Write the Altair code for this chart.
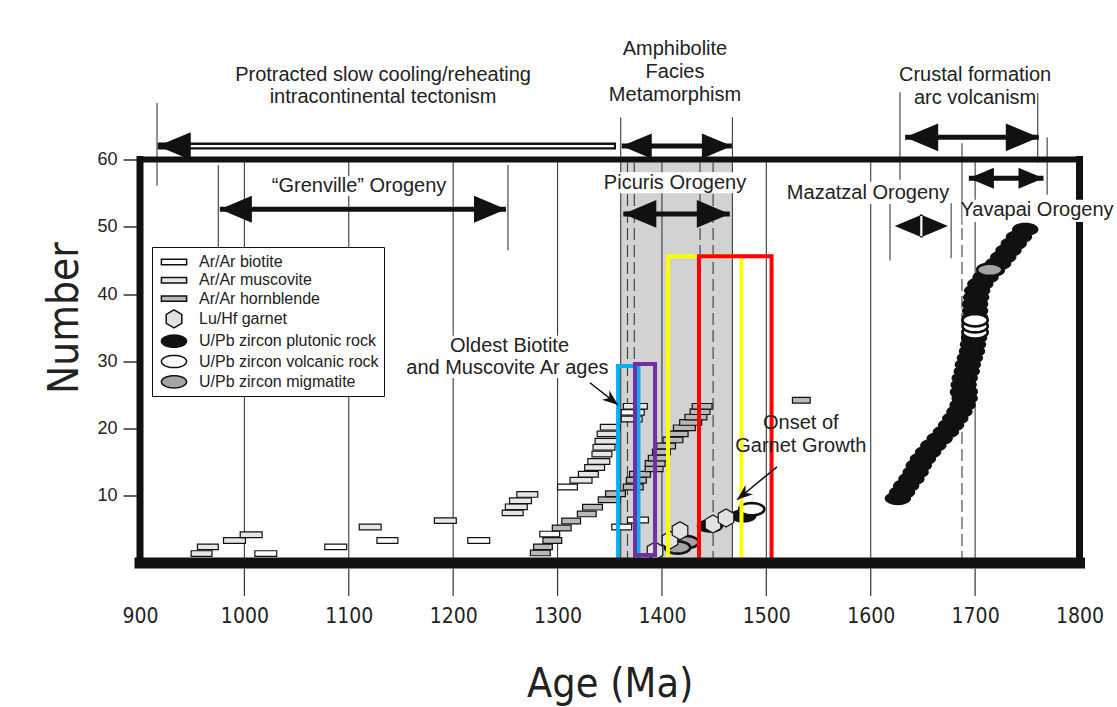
import math
import altair as alt
import pandas as pd

# ---------------------------------------------------------------- layout
X_DOMAIN = [900, 1800]
Y_DOMAIN = [0, 60]
PLOT_W, PLOT_H = 939.5, 403.5
FONT = "Liberation Sans, Arial, sans-serif"
NARROW = "Liberation Sans Narrow, DejaVu Sans Condensed, Arial Narrow, Liberation Sans, sans-serif"
INK = "#111111"

# ---------------------------------------------------------------- data
KIND = {
    "B": "Ar/Ar biotite",
    "M": "Ar/Ar muscovite",
    "H": "Ar/Ar hornblende",
}
kinds = ["Ar/Ar biotite", "Ar/Ar muscovite", "Ar/Ar hornblende", "Lu/Hf garnet",
         "U/Pb zircon plutonic rock", "U/Pb zircon volcanic rock", "U/Pb zircon migmatite"]

# Ar/Ar ages: mineral, age range (Ma) and sample number
ar_kind = ["M", "M", "M", "M", "B", "B", "M", "B", "M", "B",
           "M", "M", "M", "M",
           "B", "M", "M", "M", "M", "M", "M", "M", "M", "M", "M", "B", "M",
           "H", "H", "H", "B", "H", "H", "H", "H", "H", "H", "H", "H", "H",
           "H", "H", "H", "H", "H", "H", "H", "H", "H", "H", "H", "H",
           "B", "B", "H"]
ar_lo = [949, 955, 980, 996, 1010, 1077, 1110, 1127, 1182, 1214,
         1247, 1250, 1254, 1261,
         1300, 1312, 1320, 1326, 1329, 1333, 1334, 1336, 1338, 1341, 1361, 1361, 1363,
         1274, 1277, 1286, 1283, 1295, 1304, 1319, 1324, 1339, 1346, 1363, 1366, 1369,
         1384, 1384, 1387, 1391, 1395, 1401, 1405, 1411, 1417, 1422, 1427, 1429,
         1352, 1367, 1525]
ar_hi = [969, 975, 1001, 1017, 1031, 1098, 1131, 1147, 1203, 1235,
         1267, 1271, 1275, 1281,
         1319, 1333, 1339, 1345, 1350, 1352, 1355, 1357, 1357, 1360, 1381, 1383, 1386,
         1293, 1295, 1304, 1302, 1313, 1322, 1337, 1343, 1360, 1365, 1382, 1385, 1389,
         1401, 1403, 1405, 1408, 1413, 1420, 1425, 1432, 1438, 1443, 1446, 1448,
         1371, 1387, 1542]
ar_num = [1.4, 2.4, 3.35, 4.2, 1.4, 2.4, 5.35, 3.35, 6.3, 3.35,
          7.45, 8.35, 9.25, 10.2,
          11.3, 12.3, 13.2, 14.2, 15.1, 16.2, 17.2, 18.1, 19.2, 20.2, 21.4, 22.4, 23.3,
          1.5, 2.4, 3.35, 4.3, 5.2, 6.25, 7.3, 8.3, 9.4, 10.3, 11.3, 12.3, 13.2,
          14.0, 14.8, 15.6, 16.5, 17.4, 18.3, 19.2, 20.1, 20.9, 21.7, 22.5, 23.3,
          5.35, 6.4, 24.2]

# U/Pb plutonic zircon ages, sample number vs age (Ma)
plut_num = [9.6, 10.5, 11.5, 12.5, 13.5, 14.5, 15.5, 16.5, 17.5, 18.5, 19.5, 20.5, 21.5,
            22.5, 23.5, 24.5, 25.5, 26.5, 27.5, 28.5, 29.5, 30.5, 31.5, 32.5, 33.5, 34.5,
            35.5, 36.5, 37.5, 38.5, 39.5, 40.5, 41.5, 42.5, 43.5, 44.5, 45.5, 46.5, 47.5,
            48.5, 49.6]
plut_age = [1626, 1630, 1634, 1639, 1643, 1646, 1650, 1655, 1660, 1666, 1672, 1677, 1681,
            1685, 1688, 1690, 1690, 1689, 1690, 1692, 1693, 1695, 1697, 1698, 1699, 1700,
            1700, 1700, 1700, 1700, 1701, 1702, 1705, 1710, 1716, 1722, 1727, 1732, 1737,
            1742, 1748]

# zircon hidden beneath the plutonic trend (drawn first)
under_kind = ["U/Pb zircon volcanic rock"]
under_age = [1689]
under_num = [25.4]

# remaining zircon and garnet ages
other_kind = ["U/Pb zircon plutonic rock", "U/Pb zircon plutonic rock",
              "U/Pb zircon migmatite", "U/Pb zircon migmatite",
              "Lu/Hf garnet", "Lu/Hf garnet", "Lu/Hf garnet", "Lu/Hf garnet", "Lu/Hf garnet",
              "U/Pb zircon volcanic rock",
              "U/Pb zircon volcanic rock", "U/Pb zircon volcanic rock",
              "U/Pb zircon volcanic rock", "U/Pb zircon migmatite"]
other_age = [1446, 1478, 1423, 1415, 1393.4, 1407.7, 1417.3, 1448.9, 1461.4,
             1486, 1700, 1700, 1700, 1714]
other_num = [5.5, 7.0, 3.1, 2.3, 1.8, 3.4, 4.8, 5.8, 6.7,
             8.0, 34.3, 35.2, 36.1, 43.6]

# amphibolite-facies window
band_lo, band_hi = 1360.5, 1467.5

# age windows outlined in colour: range, bottom, top
win_lo = [1358, 1374.2, 1405.8, 1435.5]
win_hi = [1377.5, 1393.4, 1476.2, 1505]
win_bottom = [0.4, 1.2, 0.4, 0.4]
win_top = [29.3, 29.6, 45.6, 45.6]
win_color = ["#00b0f0", "#7030a0", "#ffff00", "#ff0000"]

# reference lines: solid and dashed
grid_ages = [1000, 1100, 1200, 1300, 1400, 1500, 1600, 1700]
mark_age = [916.3, 975, 1252.5, 1360.5, 1467.5, 1618.5, 1677, 1687.4, 1628, 1760, 1769]
mark_lo = [56.1, 47, 46.5, 0, 0, 45, 45.3, 50.3, 57, 59.5, 54.8]
mark_hi = [68.4, 59.2, 59.2, 66.3, 66.3, 53.5, 53.5, 62.4, 70, 69.9, 63.3]
dash_age = [1367, 1373.5, 1436.5, 1449, 1687.4]
dash_hi = [59.5, 59.5, 59.5, 59.5, 50.3]

# event arrows
arrow_name = ["Protracted", "Amphibolite", "Grenville", "Picuris", "Mazatzal", "Crustal", "Yavapai"]
arrow_num = [62.0, 62.0, 52.6, 51.9, 50.1, 63.3, 57.2]
arrow_left = [917, 1361.5, 976.5, 1363, 1623, 1633, 1694]
arrow_right = [1356, 1467, 1250.6, 1465, 1674, 1761, 1765.5]
HEAD_LEN = {"Protracted": 33, "Amphibolite": 30, "Grenville": 32, "Picuris": 33,
            "Mazatzal": 28, "Crustal": 33, "Yavapai": 25}

# annotation text
ann_text = ["Protracted slow cooling/reheating", "intracontinental tectonism",
            "Amphibolite", "Facies", "Metamorphism",
            "\u201cGrenville\u201d Orogeny", "Picuris Orogeny", "Mazatzal Orogeny",
            "Yavapai Orogeny", "Crustal formation", "arc volcanism",
            "Oldest Biotite", "and Muscovite Ar ages", "Onset of", "Garnet Growth"]
ann_age = [1132.8, 1132.8, 1412.5, 1412.5, 1412.5, 1109.8, 1412.5, 1597.4,
           1759.3, 1700, 1700, 1254, 1252, 1533, 1533]
ann_num = [72.6, 69.3, 76.4, 73.0, 69.6, 56.1, 56.5, 55.0,
           52.5, 72.6, 69.1, 32.3, 29.0, 20.8, 17.4]
# white boxes behind labels that sit on the lines
bg_lo = [1026.5, 1344, 1522.7, 1688, 1156]
bg_hi = [1193, 1481.5, 1672, 1847, 1348.4]
bg_bottom = [54.6, 55.0, 53.4, 50.7, 27.5]
bg_top = [57.5, 58.1, 56.7, 54.0, 33.8]

# pointer lines: start -> tip
call_x0 = [1331, 1510.2]
call_y0 = [26.8, 14.3]
call_x1 = [1358, 1471.9]
call_y1 = [23.5, 9.4]

# ---------------------------------------------------------------- symbols
def path(points):
    return "M" + "L".join(f"{x:.3f},{y:.3f}" for x, y in points) + "Z"


ELLIPSE = path([(1.4 * math.cos(2 * math.pi * k / 32), 0.68 * math.sin(2 * math.pi * k / 32))
                for k in range(32)])
HEXAGON = path([(math.cos(math.radians(90 + 60 * k)), math.sin(math.radians(90 + 60 * k)))
                for k in range(6)])
BAR_ICON = path([(-1.4, -0.3), (1.4, -0.3), (1.4, 0.3), (-1.4, 0.3)])
HEAD_LEFT = "M0,0L2,-0.84L2,0.84Z"
HEAD_RIGHT = "M0,0L-2,-0.84L-2,0.84Z"
CALLOUT_HEAD = "M0,0L-2,-0.75L-1.4,0L-2,0.75Z"
SYMBOL_SIZE = 324

XS = alt.Scale(domain=X_DOMAIN, nice=False, zero=False)
YS = alt.Scale(domain=Y_DOMAIN, nice=False, zero=False)
FILL_SCALE = alt.Scale(domain=kinds,
                       range=["#ffffff", "#e6e6e6", "#b8b8b8", "#e2e2e2", INK, "#ffffff", "#a4a4a4"])
SHAPE_SCALE = alt.Scale(domain=kinds,
                        range=[BAR_ICON, BAR_ICON, BAR_ICON, HEXAGON, ELLIPSE, ELLIPSE, ELLIPSE])

LEGEND = alt.Legend(title=None, orient="none", legendX=12, legendY=87.5,
                    fillColor="white", strokeColor=INK, padding=5, rowPadding=0.3,
                    symbolSize=SYMBOL_SIZE, symbolStrokeColor=INK, symbolStrokeWidth=1.5,
                    symbolOffset=7, labelOffset=15,
                    labelFont=FONT, labelFontSize=16, labelColor="#222222", labelLimit=400)

X_AXIS = alt.Axis(values=list(range(900, 1801, 100)), ticks=False, tickSize=0, domain=False,
                  grid=False, format="d", labelFont=NARROW, labelFontSize=21,
                  labelColor="#222222", labelPadding=42, labelFlush=False, labelOverlap=False,
                  title="Age (Ma)", titleFont=NARROW, titleFontSize=41,
                  titleFontWeight="normal", titleColor="#222222",
                  titleX=PLOT_W / 2, titleY=133, titleBaseline="alphabetic", titleAlign="center")
Y_AXIS = alt.Axis(values=[10, 20, 30, 40, 50, 60], tickSize=17, tickWidth=1.3, tickColor=INK,
                  domain=False, grid=False, labelFont=FONT, labelFontSize=18,
                  labelColor="#222222", labelPadding=6, labelFlush=False,
                  title="Number", titleFont=NARROW, titleFontSize=42,
                  titleFontWeight="normal", titleColor="#222222", titleAngle=270,
                  titleX=-63, titleY=158, titleBaseline="alphabetic", titleAlign="center")


def xq(field):
    return alt.X(f"{field}:Q", scale=XS, axis=X_AXIS)


def yq(field):
    return alt.Y(f"{field}:Q", scale=YS, axis=Y_AXIS)


# ---------------------------------------------------------------- layers
band = alt.Chart(pd.DataFrame({"lo": [band_lo], "hi": [band_hi],
                               "b": [Y_DOMAIN[0]], "t": [Y_DOMAIN[1]]})).mark_rect(
    fill="#d2d2d2").encode(x=xq("lo"), x2="hi", y=yq("b"), y2="t")

grid_df = pd.DataFrame({"age": grid_ages + mark_age,
                        "lo": [Y_DOMAIN[0]] * len(grid_ages) + mark_lo,
                        "hi": [Y_DOMAIN[1]] * len(grid_ages) + mark_hi})
solid_lines = alt.Chart(grid_df).mark_rule(color="#3a3a3a", strokeWidth=1.1).encode(
    x=xq("age"), y=yq("lo"), y2="hi")

dash_df = pd.DataFrame({"age": dash_age, "lo": [Y_DOMAIN[0]] * len(dash_age), "hi": dash_hi})
dashed_lines = alt.Chart(dash_df).mark_rule(color="#3a3a3a", strokeWidth=1.1,
                                            strokeDash=[12, 5]).encode(
    x=xq("age"), y=yq("lo"), y2="hi")

ar_df = pd.DataFrame({"kind": [KIND[k] for k in ar_kind], "lo": ar_lo, "hi": ar_hi, "num": ar_num})
bars = alt.Chart(ar_df).transform_calculate(
    b="datum.num - 0.42", t="datum.num + 0.42").mark_rect(
    stroke=INK, strokeWidth=1.2).encode(
    x=xq("lo"), x2="hi", y=yq("b"), y2="t",
    fill=alt.Fill("kind:N", scale=FILL_SCALE, legend=LEGEND))

pts_df = pd.DataFrame({
    "kind": under_kind + ["U/Pb zircon plutonic rock"] * len(plut_num) + other_kind,
    "age": under_age + plut_age + other_age,
    "num": under_num + plut_num + other_num,
})
points = alt.Chart(pts_df).transform_calculate(
    sw="(datum.kind == 'U/Pb zircon volcanic rock' || datum.kind == 'U/Pb zircon migmatite') ? 2.6 : 1.2"
).mark_point(filled=True, stroke=INK, size=SYMBOL_SIZE, opacity=1).encode(
    x=xq("age"), y=yq("num"),
    fill=alt.Fill("kind:N", scale=FILL_SCALE, legend=LEGEND),
    shape=alt.Shape("kind:N", scale=SHAPE_SCALE, legend=LEGEND),
    strokeWidth=alt.StrokeWidth("sw:Q", scale=None))

win_df = pd.DataFrame({"lo": win_lo, "hi": win_hi, "b": win_bottom, "t": win_top,
                       "color": win_color})
windows = alt.Chart(win_df).mark_rect(fillOpacity=0, strokeWidth=4).encode(
    x=xq("lo"), x2="hi", y=yq("b"), y2="t", stroke=alt.Stroke("color:N", scale=None))

arr_df = pd.DataFrame({"name": arrow_name, "num": arrow_num,
                       "left": arrow_left, "right": arrow_right})
shafts = alt.Chart(arr_df).transform_filter(
    "datum.name != 'Protracted' && datum.name != 'Mazatzal'").mark_rule(
    color=INK, strokeWidth=5).encode(x=xq("left"), x2="right", y=yq("num"))
hollow_outer = alt.Chart(arr_df).transform_filter("datum.name == 'Protracted'").mark_rule(
    color=INK, strokeWidth=7).encode(x=xq("left"), x2="right", y=yq("num"))
hollow_inner = alt.Chart(arr_df).transform_filter("datum.name == 'Protracted'").transform_calculate(
    a="datum.left + 30", z="datum.right - 2").mark_rule(
    color="white", strokeWidth=2.2).encode(x=xq("a"), x2="z", y=yq("num"))
divider = alt.Chart(arr_df).transform_filter("datum.name == 'Mazatzal'").transform_calculate(
    mid="(datum.left + datum.right) / 2", b="datum.num - 1.5", t="datum.num + 1.5").mark_rule(
    color="white", strokeWidth=2.2).encode(x=xq("mid"), y=yq("b"), y2="t")

left_heads = pd.DataFrame({"age": arrow_left, "num": arrow_num,
                           "size": [HEAD_LEN[n] ** 2 for n in arrow_name]})
right_names = [n for n in arrow_name if n != "Protracted"]
right_heads = pd.DataFrame({
    "age": [r for n, r in zip(arrow_name, arrow_right) if n != "Protracted"],
    "num": [v for n, v in zip(arrow_name, arrow_num) if n != "Protracted"],
    "size": [HEAD_LEN[n] ** 2 for n in right_names]})
heads_l = alt.Chart(left_heads).mark_point(shape=HEAD_LEFT, filled=True, color=INK,
                                           opacity=1, strokeWidth=0).encode(
    x=xq("age"), y=yq("num"), size=alt.Size("size:Q", scale=None))
heads_r = alt.Chart(right_heads).mark_point(shape=HEAD_RIGHT, filled=True, color=INK,
                                            opacity=1, strokeWidth=0).encode(
    x=xq("age"), y=yq("num"), size=alt.Size("size:Q", scale=None))

# frame around the plot
frame_h = pd.DataFrame({"x0": [X_DOMAIN[0]], "x1": [X_DOMAIN[1]],
                        "top": [Y_DOMAIN[1]], "bottom": [Y_DOMAIN[0]]})
frame_top = alt.Chart(frame_h).mark_rule(color=INK, strokeWidth=6, strokeCap="square").encode(
    x=xq("x0"), x2="x1", y=yq("top"))
frame_bottom = alt.Chart(frame_h).mark_rule(color=INK, strokeWidth=11, strokeCap="square").encode(
    x=xq("x0"), x2="x1", y=yq("bottom"))
frame_sides = alt.Chart(pd.DataFrame({"x": X_DOMAIN, "b": [Y_DOMAIN[0]] * 2,
                                      "t": [Y_DOMAIN[1]] * 2})).mark_rule(
    color=INK, strokeWidth=7, strokeCap="square").encode(x=xq("x"), y=yq("b"), y2="t")
ticks_below = alt.Chart(pd.DataFrame({"age": grid_ages})).transform_calculate(
    b="-0.8", t="-4.9").mark_rule(color="#333333", strokeWidth=1.2).encode(
    x=xq("age"), y=yq("b"), y2="t")

bg_df = pd.DataFrame({"lo": bg_lo, "hi": bg_hi, "b": bg_bottom, "t": bg_top})
text_bg = alt.Chart(bg_df).mark_rect(fill="white").encode(
    x=xq("lo"), x2="hi", y=yq("b"), y2="t")

ann_df = pd.DataFrame({"text": ann_text, "age": ann_age, "num": ann_num})
labels = alt.Chart(ann_df).mark_text(font=FONT, fontSize=20, color="#222222",
                                     align="center", baseline="middle").encode(
    x=xq("age"), y=yq("num"), text="text:N")

px_per_ma = PLOT_W / (X_DOMAIN[1] - X_DOMAIN[0])
px_per_num = PLOT_H / (Y_DOMAIN[1] - Y_DOMAIN[0])
call_angle = [math.degrees(math.atan2(-(y1 - y0) * px_per_num, (x1 - x0) * px_per_ma))
              for x0, y0, x1, y1 in zip(call_x0, call_y0, call_x1, call_y1)]
call_df = pd.DataFrame({"x0": call_x0, "y0": call_y0, "x1": call_x1, "y1": call_y1,
                        "ang": call_angle})
call_lines = alt.Chart(call_df).mark_rule(color=INK, strokeWidth=1.5).encode(
    x=xq("x0"), y=yq("y0"), x2="x1", y2="y1")
call_heads = alt.Chart(call_df).mark_point(shape=CALLOUT_HEAD, filled=True, color=INK,
                                           size=256, opacity=1, strokeWidth=0).encode(
    x=xq("x1"), y=yq("y1"), angle=alt.Angle("ang:Q", scale=None))

chart = alt.layer(
    band, solid_lines, dashed_lines, bars, points, windows,
    shafts, hollow_outer, hollow_inner, heads_l, heads_r, divider,
    frame_top, frame_bottom, frame_sides, ticks_below,
    text_bg, labels, call_lines, call_heads,
).properties(
    width=PLOT_W, height=PLOT_H,
    padding={"left": 140, "top": 159.5, "right": 37.5, "bottom": 144},
    autosize=alt.AutoSizeParams(type="none"),
    background="white",
).configure_view(stroke=None)

chart.save("out.html", embed_options={"renderer": "svg", "actions": False})
